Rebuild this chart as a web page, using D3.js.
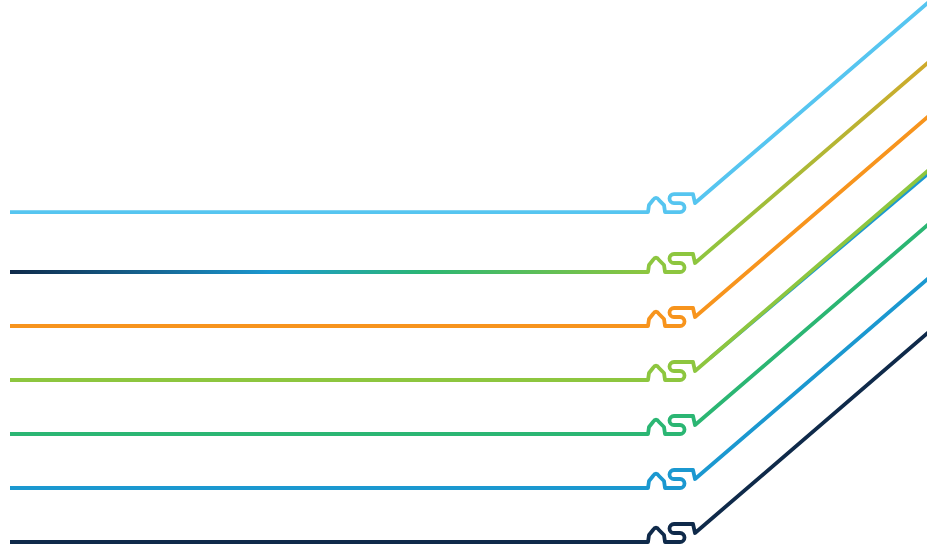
<!DOCTYPE html>
<html>
<head>
<meta charset="utf-8">
<script src="https://cdn.jsdelivr.net/npm/d3@7"></script>
<style>
  html, body { margin: 0; padding: 0; background: #fff; overflow: hidden; }
</style>
</head>
<body>
<script>
const w = 927;
const h = 546;

// rows, top to bottom
const rows = ["row1", "row2", "row3", "row4", "row5", "row6", "row7"];
// baseline level of each row (units), and how far each rises on the right
const levels = [6.11, 5, 4, 3, 2, 1, 0];
const rises = [3.85, 3.85, 3.85, 3.85, 3.85, 3.85, 3.85];
const colors = ["#56c5f0", "url(#grad2)", "#f7941d", "#8dc63f", "#2bb673", "#1b98d0", "#0f2a4a"];

// row 2 colour ramp along x (units)
const gradStops = [0, 41, 65, 100, 107, 145];
const gradColors = ["#0f2a4a", "#1b98d0", "#2bb673", "#8dc63f", "#8dc63f", "#cfaa2b"];

// faint blue line that peeks out under row 4's slope
const underRow = 3;
const underDrop = 0.06;
const underColor = "#1b98d0";

const svg = d3.select("body").append("svg").attr("width", w).attr("height", h);

// scales
const xScale = d3.scaleLinear().domain([0, 100]).range([10, 648]);
const yScale = d3.scaleLinear().domain([0, 1]).range([542, 488]);
const xEnd = xScale.invert(w + 4);

// gradient for row 2
const grad = svg.append("defs").append("linearGradient")
  .attr("id", "grad2")
  .attr("gradientUnits", "userSpaceOnUse")
  .attr("x1", xScale(0)).attr("x2", w)
  .attr("y1", 0).attr("y2", 0);
grad.selectAll("stop")
  .data(gradStops)
  .enter()
  .append("stop")
  .attr("offset", (d) => (xScale(d) - xScale(0)) / (w - xScale(0)))
  .attr("stop-color", (d, i) => gradColors[i]);

// the little "NS" mark drawn on each line, then the slope to the edge
function rowPath(level, rise) {
  const p = d3.path();
  const xb = xScale(100);
  const y0 = yScale(level);
  p.moveTo(xScale(0), y0);
  p.lineTo(xb, y0);
  p.lineTo(xb + 1, y0 - 7);
  p.lineTo(xb + 5, y0 - 12);
  p.quadraticCurveTo(xb + 8, y0 - 16.5, xb + 11, y0 - 12);
  p.lineTo(xb + 16, y0 - 7);
  p.lineTo(xb + 17, y0);
  p.lineTo(xb + 32, y0);
  p.arc(xb + 32, y0 - 4.5, 4.5, Math.PI / 2, -Math.PI / 2, true);
  p.lineTo(xb + 26, y0 - 9);
  p.arc(xb + 26, y0 - 13.5, 4.5, Math.PI / 2, Math.PI * 1.5, false);
  p.lineTo(xb + 45, y0 - 18);
  p.lineTo(xb + 47, y0 - 9);
  p.lineTo(xScale(xEnd), yScale(level + rise) - 4);
  return p.toString();
}

function underPath(level, rise) {
  const xb = xScale(100);
  const y0 = yScale(level);
  const x1 = xScale(xEnd);
  const y1 = yScale(level + rise) - 4;
  const xs = xb + 62;
  const ys = y0 - 9 + (y1 - (y0 - 9)) * (xs - (xb + 47)) / (x1 - (xb + 47));
  return d3.line()([
    [xs, ys],
    [x1, yScale(level + rise - underDrop) - 4]
  ]);
}

svg.append("path")
  .attr("d", underPath(levels[underRow], rises[underRow]))
  .attr("fill", "none")
  .attr("stroke", underColor)
  .attr("stroke-width", 3.4);

svg.selectAll(".row")
  .data(rows)
  .enter()
  .append("path")
  .attr("class", "row")
  .attr("d", (d, i) => rowPath(levels[i], rises[i]))
  .attr("fill", "none")
  .attr("stroke", (d, i) => colors[i])
  .attr("stroke-width", 3.8)
  .attr("stroke-linejoin", "round");
</script>
</body>
</html>
